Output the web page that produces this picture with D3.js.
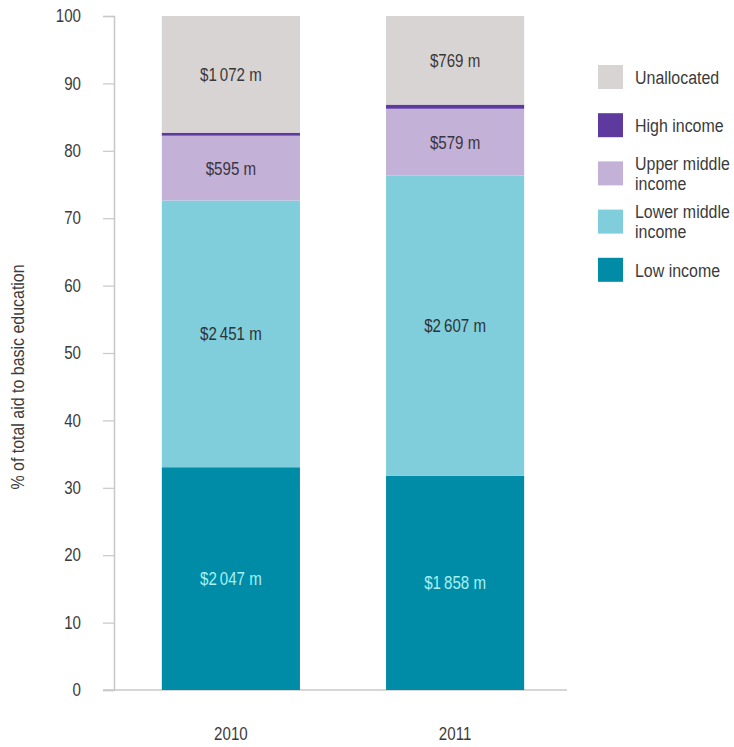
<!DOCTYPE html>
<html>
<head>
<meta charset="utf-8">
<script src="https://cdn.jsdelivr.net/npm/d3@7"></script>
<style>
  html, body { margin: 0; padding: 0; background: #fff; }
  svg { display: block; font-family: "Liberation Sans", Arial, sans-serif; }
</style>
</head>
<body>
<svg id="chart" width="734" height="747"></svg>
<script>
// Aid to basic education by income group, US$ millions
const years = ["2010", "2011"];
const groups = ["Low income", "Lower middle income", "Upper middle income", "High income", "Unallocated"];
const lowIncome = [2047, 1858];
const lowerMiddle = [2451, 2607];
const upperMiddle = [595, 579];
const highIncome = [28, 36];
const unallocated = [1072, 769];
const yTicks = [0, 10, 20, 30, 40, 50, 60, 70, 80, 90, 100];

const colors = {
  "Low income": "#008ba6",
  "Lower middle income": "#80cedc",
  "Upper middle income": "#c3b1d7",
  "High income": "#5e3a9f",
  "Unallocated": "#d8d4d4"
};
const labelColors = {
  "Low income": "#a6f1f5",
  "Lower middle income": "#2f3336",
  "Upper middle income": "#3a3540",
  "Unallocated": "#3a3838"
};
const legendLines = {
  "Unallocated": ["Unallocated"],
  "High income": ["High income"],
  "Upper middle income": ["Upper middle", "income"],
  "Lower middle income": ["Lower middle", "income"],
  "Low income": ["Low income"]
};

// horizontal squeeze giving the narrow, condensed lettering
const SQ = 0.84;
const narrow = (x, yPos) => `translate(${x},${yPos}) scale(${SQ},1)`;

const seriesValues = [lowIncome, lowerMiddle, upperMiddle, highIncome, unallocated];
const rows = years.map((yr, i) => {
  const row = { year: yr };
  groups.forEach((g, k) => { row[g] = seriesValues[k][i]; });
  return row;
});

const svg = d3.select("#chart");
const axisColor = "#c8c8c8";
const textColor = "#3b3b3b";

const y = d3.scaleLinear().domain([0, 100]).range([690, 16]);
const x = d3.scaleBand().domain(years).range([117, 569]).paddingInner(0.384).paddingOuter(0.2);

const stacked = d3.stack().keys(groups).offset(d3.stackOffsetExpand)(rows);

// Y axis
const yAxis = svg.append("g").attr("transform", "translate(114,0)")
  .call(d3.axisLeft(y).tickValues(yTicks).tickSize(11).tickPadding(22));
yAxis.select(".domain").attr("stroke", axisColor).attr("stroke-width", 1.5);
yAxis.selectAll(".tick line").attr("stroke", axisColor).attr("stroke-width", 1.2);
yAxis.selectAll(".tick text")
  .attr("x", null)
  .attr("transform", narrow(-33, 0))
  .attr("fill", textColor)
  .style("font-size", "18px")
  .style("font-family", "inherit");

// Baseline
svg.append("line").attr("x1", 103).attr("x2", 567).attr("y1", y(0)).attr("y2", y(0))
  .attr("stroke", axisColor).attr("stroke-width", 1.5);

// Stacked bars
const layers = svg.append("g").selectAll("g").data(stacked).join("g")
  .attr("fill", d => colors[d.key]);
layers.selectAll("rect").data(d => d).join("rect")
  .attr("x", d => x(d.data.year))
  .attr("width", x.bandwidth())
  .attr("y", d => y(d[1] * 100))
  .attr("height", d => y(d[0] * 100) - y(d[1] * 100));

// Value labels
stacked.forEach(layer => {
  if (layer.key === "High income") return;
  svg.append("g").selectAll("text").data(layer).join("text")
    .attr("transform", d => narrow(x(d.data.year) + x.bandwidth() / 2, y((d[0] + d[1]) / 2 * 100)))
    .attr("dy", "0.36em")
    .attr("text-anchor", "middle")
    .attr("fill", labelColors[layer.key])
    .style("font-size", "18px")
    .text(d => "$" + d3.format(",")(d.data[layer.key]).replace(",", "\u2009") + " m");
});

// X category labels
svg.append("g").selectAll("text").data(years).join("text")
  .attr("transform", d => narrow(x(d) + x.bandwidth() / 2, 740))
  .attr("text-anchor", "middle")
  .attr("fill", textColor)
  .style("font-size", "18px")
  .text(d => d);

// Y axis title
svg.append("text")
  .attr("transform", `translate(24,377) rotate(-90) scale(${SQ},1)`)
  .attr("text-anchor", "middle")
  .attr("fill", textColor)
  .style("font-size", "19px")
  .text("% of total aid to basic education");

// Legend
const legendOrder = ["Unallocated", "High income", "Upper middle income", "Lower middle income", "Low income"];
const legend = svg.append("g").selectAll("g").data(legendOrder).join("g")
  .attr("transform", (d, i) => `translate(598,${65 + i * 48.2})`);
legend.append("rect").attr("width", 25).attr("height", 24).attr("fill", d => colors[d]);
legend.each(function(d) {
  const lines = legendLines[d];
  const start = 12 - (lines.length - 1) * 10;
  lines.forEach((ln, j) => {
    d3.select(this).append("text")
      .attr("transform", narrow(37, start + j * 20))
      .attr("dy", "0.36em")
      .attr("fill", textColor)
      .style("font-size", "19px")
      .text(ln);
  });
});
</script>
</body>
</html>
